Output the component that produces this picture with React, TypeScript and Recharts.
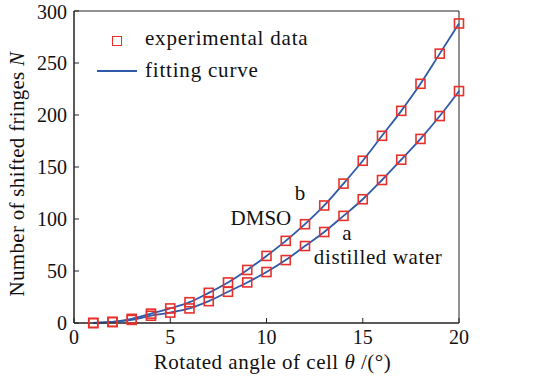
import React from 'react';
import { LineChart, Line, XAxis, YAxis, ReferenceArea, ReferenceDot, Label } from 'recharts';

const angles = [1, 2, 3, 4, 5, 6, 7, 8, 9, 10, 11, 12, 13, 14, 15, 16, 17, 18, 19, 20];
const dmso = [0, 1, 4, 9, 14, 20, 29, 39, 51, 64.5, 79, 95, 113, 134, 156, 180, 204, 230, 259, 288];
const water = [0, 1, 3, 7, 10, 14, 21, 30, 39, 49, 60.5, 74, 87.5, 103, 119, 137.5, 157, 177, 199, 223];
const xTicks = [0, 5, 10, 15, 20];
const yTicks = [0, 50, 100, 150, 200, 250, 300];

const data = angles.map((a, i) => ({ angle: a, dmso: dmso[i], water: water[i] }));

const FONT = '"Liberation Serif", serif';
const RED = '#e8302a';
const BLUE = '#2f5aa8';
const TXT = '#111';

const SquareDot = (props: any) => {
  const { cx, cy } = props;
  if (cx == null || cy == null) return null;
  return <rect x={cx - 4.5} y={cy - 4.5} width={9} height={9} fill="none" stroke={RED} strokeWidth={1.6} />;
};

const note = (text: string, spacing = 0) => (props: any) => {
  const { viewBox } = props;
  return (
    <text x={viewBox.cx ?? viewBox.x} y={viewBox.cy ?? viewBox.y} textAnchor="middle" dominantBaseline="central"
      fontFamily={FONT} fontSize={21} fill={TXT} letterSpacing={spacing}>{text}</text>
  );
};

const XTitle = (props: any) => {
  const { x, y, width } = props.viewBox;
  return (
    <text x={x + width / 2 + 6} y={y + 39} textAnchor="middle" dominantBaseline="central"
      fontFamily={FONT} fontSize={21} fill={TXT} letterSpacing={0.5}>
      Rotated angle of cell <tspan fontStyle="italic">θ</tspan> /(°)
    </text>
  );
};

const YTitle = (props: any) => {
  const { y, height } = props.viewBox;
  const cx = 17;
  const cy = y + height / 2 + 7;
  return (
    <text x={cx} y={cy} transform={`rotate(-90 ${cx} ${cy})`} textAnchor="middle" dominantBaseline="central"
      fontFamily={FONT} fontSize={21} fill={TXT} letterSpacing={0.3}>
      Number of shifted fringes <tspan fontStyle="italic">N</tspan>
    </text>
  );
};

const App: React.FC = () => {
  return (
    <div style={{ position: 'absolute', left: 0, top: 0, width: 546, height: 381, background: '#fff' }}>
      <LineChart width={546} height={381} data={data} margin={{ top: 11, right: 87, bottom: 0, left: 0 }}>
        <XAxis dataKey="angle" type="number" domain={[0, 20]} ticks={xTicks} height={58}
          axisLine={{ stroke: '#222' }} tickLine={{ stroke: '#222' }} tickSize={-5} tickMargin={12}
          tick={{ fontFamily: FONT, fontSize: 20, fill: TXT }}>
          <Label content={<XTitle />} />
        </XAxis>
        <YAxis type="number" domain={[0, 300]} ticks={yTicks} width={74}
          axisLine={{ stroke: '#222' }} tickLine={{ stroke: '#222' }} tickSize={-5} tickMargin={12}
          tick={{ fontFamily: FONT, fontSize: 20, fill: TXT }}>
          <Label content={<YTitle />} />
        </YAxis>
        <ReferenceArea x1={0} x2={20} y1={0} y2={300} fill="none" stroke="#222" strokeWidth={1} />
        <Line type="monotone" dataKey="dmso" stroke={BLUE} strokeWidth={1.8} dot={<SquareDot />} isAnimationActive={false} />
        <Line type="monotone" dataKey="water" stroke={BLUE} strokeWidth={1.8} dot={<SquareDot />} isAnimationActive={false} />
        <ReferenceDot x={11.74} y={125} r={0} label={note('b')} />
        <ReferenceDot x={9.71} y={101} r={0} label={note('DMSO')} />
        <ReferenceDot x={14.18} y={86.5} r={0} label={note('a')} />
        <ReferenceDot x={15.8} y={63.5} r={0} label={note('distilled water', 0.6)} />
      </LineChart>
      <div style={{ position: 'absolute', left: 95, top: 22, width: 230, height: 68, background: '#fff',
        fontFamily: FONT, fontSize: 21, color: TXT, letterSpacing: 0.8 }}>
        <div style={{ position: 'absolute', left: 17, top: 14, width: 8, height: 8, border: `1.6px solid ${RED}` }} />
        <div style={{ position: 'absolute', left: 50, top: 3, lineHeight: '26px', whiteSpace: 'nowrap' }}>experimental data</div>
        <div style={{ position: 'absolute', left: 2, top: 48, width: 40, height: 2, background: BLUE }} />
        <div style={{ position: 'absolute', left: 50, top: 35, lineHeight: '26px', whiteSpace: 'nowrap' }}>fitting curve</div>
      </div>
    </div>
  );
};

export default App;
